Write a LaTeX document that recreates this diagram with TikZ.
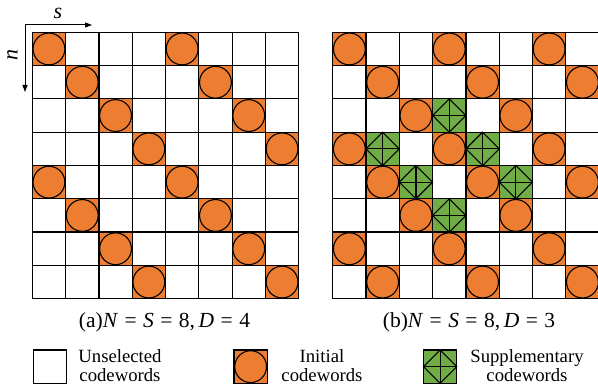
\documentclass[tikz,border=0pt]{standalone}
\usepackage{fontspec}
\setmainfont{Liberation Serif}
\usetikzlibrary{arrows.meta}
\definecolor{cworange}{HTML}{ED7D31}
\definecolor{cwgreen}{HTML}{70AD47}
\newcommand\cwsp{\hspace{0.3em}}
\tikzset{
  gridline/.style={line width=1.2pt, black, line cap=rect},
  symline/.style={line width=1.1pt, black},
  axisarrow/.style={line width=1pt, black, -{Triangle[length=7pt,width=5pt]}},
  axislabel/.style={font=\fontsize{22}{24}\selectfont\itshape, inner sep=0pt},
  caption/.style={font=\fontsize{21.5}{24}\selectfont, inner sep=0pt, anchor=base},
  legendtext/.style={font=\fontsize{18.7}{18.5}\selectfont, align=center, inner sep=0pt},
}
\begin{document}
\begin{tikzpicture}[x=1pt,y=-1pt]
\useasboundingbox (0,0) rectangle (598,390);
\clip (0,0) rectangle (598,390);
\fill[white] (0,0) rectangle (598,390);
\def\cs{33.3}
\def\hc{16.65}
% ---------- grid (a) ----------
\begin{scope}[shift={(32.3,32.3)}]
  \foreach \r/\c in {0/0,0/4,1/1,1/5,2/2,2/6,3/3,3/7,4/0,4/4,5/1,5/5,6/2,6/6,7/3,7/7}
    {\fill[cworange] ({\c*\cs},{\r*\cs}) rectangle ++(\cs,\cs);}
  \foreach \i in {0,...,8}
    {\draw[gridline] ({\i*\cs},0) -- ({\i*\cs},{8*\cs});
     \draw[gridline] (0,{\i*\cs}) -- ({8*\cs},{\i*\cs});}
  \foreach \r/\c in {0/0,0/4,1/1,1/5,2/2,2/6,3/3,3/7,4/0,4/4,5/1,5/5,6/2,6/6,7/3,7/7}
    {\draw[symline] ({\c*\cs+\hc},{\r*\cs+\hc}) circle[radius=15.9pt];}
\end{scope}
% ---------- grid (b) ----------
\begin{scope}[shift={(332.7,32.3)}]
  \foreach \r/\c in {0/0,0/3,0/6,1/1,1/4,1/7,2/2,2/5,3/0,3/3,3/6,4/1,4/4,4/7,5/2,5/5,6/0,6/3,6/6,7/1,7/4,7/7}
    {\fill[cworange] ({\c*\cs},{\r*\cs}) rectangle ++(\cs,\cs);}
  \foreach \r/\c in {2/3,3/1,3/4,4/2,4/5,5/3}
    {\fill[cwgreen] ({\c*\cs},{\r*\cs}) rectangle ++(\cs,\cs);}
  \foreach \i in {0,...,8}
    {\draw[gridline] ({\i*\cs},0) -- ({\i*\cs},{8*\cs});
     \draw[gridline] (0,{\i*\cs}) -- ({8*\cs},{\i*\cs});}
  \foreach \r/\c in {0/0,0/3,0/6,1/1,1/4,1/7,2/2,2/5,3/0,3/3,3/6,4/1,4/4,4/7,5/2,5/5,6/0,6/3,6/6,7/1,7/4,7/7}
    {\draw[symline] ({\c*\cs+\hc},{\r*\cs+\hc}) circle[radius=15.9pt];}
  \foreach \r/\c in {2/3,3/1,3/4,4/2,4/5,5/3}
    {\draw[symline] ({\c*\cs+\hc},{\r*\cs}) -- ({\c*\cs+\cs},{\r*\cs+\hc}) -- ({\c*\cs+\hc},{\r*\cs+\cs}) -- ({\c*\cs},{\r*\cs+\hc}) -- cycle;
     \draw[symline] ({\c*\cs},{\r*\cs+\hc}) -- ({\c*\cs+\cs},{\r*\cs+\hc});
     \draw[symline] ({\c*\cs+\hc},{\r*\cs}) -- ({\c*\cs+\hc},{\r*\cs+\cs});}
\end{scope}
% ---------- axes ----------
\coordinate (origin) at (25,25);
\coordinate (send) at (92,25);
\coordinate (nend) at (25,92);
\draw[axisarrow] (origin) -- (send);
\draw[axisarrow] (origin) -- (nend);
\node[axislabel] (slabel) at (58,13) {s};
\node[axislabel, rotate=90] (nlabel) at (12.5,55) {n};
% ---------- captions ----------
\node[caption] (capa) at (164.5,328) {(a)\textit{N}\cwsp=\cwsp\textit{S}\cwsp=\cwsp8,\hspace{0.17em}\textit{D}\cwsp=\cwsp4};
\node[caption] (capb) at (469,328) {(b)\textit{N}\cwsp=\cwsp\textit{S}\cwsp=\cwsp8,\hspace{0.17em}\textit{D}\cwsp=\cwsp3};
% ---------- legend ----------
\draw[gridline] (33.3,350) rectangle ++(33.3,33.3);
\fill[cworange] (234,350) rectangle ++(33.3,33.3);
\draw[gridline] (234,350) rectangle ++(33.3,33.3);
\draw[symline] (250.65,366.65) circle[radius=15.9pt];
\fill[cwgreen] (423.5,350) rectangle ++(33.3,33.3);
\draw[gridline] (423.5,350) rectangle ++(33.3,33.3);
\draw[symline] (440.15,350) -- (456.8,366.65) -- (440.15,383.3) -- (423.5,366.65) -- cycle;
\draw[symline] (423.5,366.65) -- (456.8,366.65);
\draw[symline] (440.15,350) -- (440.15,383.3);
\node[legendtext] (lgunsel) at (120,365.7) {Unselected\\codewords};
\node[legendtext] (lginit) at (322,365.7) {Initial\\codewords};
\node[legendtext] (lgsupp) at (527,365.7) {Supplementary\\codewords};
\end{tikzpicture}
\end{document}
